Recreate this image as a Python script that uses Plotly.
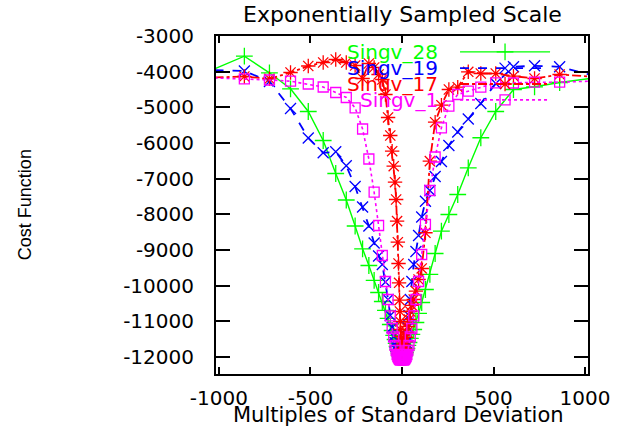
import plotly.graph_objects as go

# ---------------- data ----------------
# exponentially sampled x positions (left half, then right half)
x_left = [-1024, -861.1, -724.1, -608.9, -512, -430.5, -362.0, -304.4, -256, -215.3,
          -181.0, -152.2, -128, -107.6, -90.5, -76.1, -64, -53.8, -45.3, -38.1,
          -32, -26.9, -22.6, -19.0, -16, -13.5, -11.3, -9.5, -8, -6.7, -5.7, -4.8, -4]
x_right = [4, 4.8, 5.7, 6.7, 8, 9.5, 11.3, 13.5, 16, 19.0, 22.6, 26.9, 32, 38.1,
           45.3, 53.8, 64, 76.1, 90.5, 107.6, 128, 152.2, 181.0, 215.3, 256, 304.4,
           362.0, 430.5, 512, 608.9, 724.1, 861.1, 1024]
x_values = x_left + x_right

singv_28 = [-3919, -3566, -4032, -4480, -5116, -5929, -6854, -7597, -8326, -8965,
            -9433, -9853, -10190, -10442, -10694, -10918, -11087, -11255, -11395, -11508,
            -11619, -11704, -11788, -11844, -11900, -11942, -11970, -11984, -11998, -12012,
            -12012, -12012, -12012,
            -12012, -12012, -12012, -12012, -11998, -11984, -11970, -11942, -11914, -11872,
            -11816, -11760, -11675, -11592, -11479, -11367, -11228, -11031, -10778, -10470,
            -10106, -9685, -9097, -8471, -8004, -7443, -6694, -5853, -5116, -4500,
            -4424, -4303, -4191]

singv_19 = [-3959, -3981, -4275, -5032, -5859, -6274, -6246, -6638, -7219, -7793,
            -8326, -8802, -9167, -9406, -9896, -10386, -10834, -11171, -11423, -11592,
            -11704, -11788, -11844, -11900, -11928, -11956, -11984, -11998, -12012, -12012,
            -12012, -12012, -12012,
            -12012, -12012, -11998, -11984, -11956, -11928, -11900, -11844, -11788, -11704,
            -11592, -11423, -11171, -10834, -10386, -9882, -9406, -9040, -8592, -8073,
            -7631, -7331, -6938, -6518, -6069, -5691, -5326, -4892, -4331, -3863,
            -3835, -3863, -4079]

singv_17 = [-4163, -4135, -4200, -4023, -3841, -3743, -3659, -3743, -3827, -4191,
            -3771, -3883, -4079, -4219, -4640, -5284, -5789, -6229, -6650, -7098,
            -7583, -8191, -8780, -9377, -9918, -10406, -10723, -11003, -11228, -11423,
            -11564, -11675, -11760,
            -12012, -12012, -11984, -11956, -11928, -11872, -11816, -11760, -11675, -11564,
            -11451, -11311, -11143, -10947, -10723, -10554, -10386, -10153, -9826, -9517,
            -8516, -6509, -5416, -4940, -4500, -4435, -4003, -4051, -4051, -4127,
            -4191, -4079, -4135]

singv_1 = [-4177, -4200, -4233, -4267, -4345, -4430, -4584, -4724, -5013, -5607,
           -6448, -7378, -8312, -9153, -9882, -10386, -10848, -11199, -11437, -11675,
           -11816, -11928, -11984, -12012, -12040, -12054, -12069, -12069, -12069, -12069,
           -12069, -12069, -12069,
           -12069, -12069, -12069, -12069, -12069, -12069, -12069, -12054, -12040, -12012,
           -11984, -11928, -11816, -11675, -11437, -11199, -10848, -10386, -9882, -9125,
           -8284, -7331, -6392, -5573, -4968, -4640, -4547, -4435, -4312, -4317,
           -4295, -4295, -4267]

series_names = ["Singv_28", "Singv_19", "Singv_17", "Singv_1"]

x_tick_values = [-1000, -500, 0, 500, 1000]
x_tick_labels = ["-1000", "-500", "0", "500", "1000"]
y_tick_values = [-3000, -4000, -5000, -6000, -7000, -8000, -9000, -10000, -11000, -12000]
y_tick_labels = ["-3000", "-4000", "-5000", "-6000", "-7000", "-8000", "-9000",
                 "-10000", "-11000", "-12000"]

# ---------------- styles ----------------
series_y = [singv_28, singv_19, singv_17, singv_1]
colors = ["#00ff00", "#0000ff", "#ff0000", "#ff00ff"]
dashes = ["solid", "dash", "dashdot", "dot"]
line_widths = [1.4, 1.8, 1.8, 1.6]
symbols = ["cross-thin-open", "x-thin-open", "asterisk-open", "square-open"]
marker_sizes = [12, 11, 12, 10]

FONT = "DejaVu Sans, Verdana, sans-serif"

fig = go.Figure()

for name, ys, c, d, lw, sym, ms in zip(series_names, series_y, colors, dashes,
                                       line_widths, symbols, marker_sizes):
    fig.add_trace(go.Scatter(
        x=x_values, y=ys, mode="lines+markers", name=name,
        line=dict(color=c, width=lw, dash=d),
        marker=dict(symbol=sym, size=ms, color=c, line=dict(color=c, width=1.3)),
        cliponaxis=False, showlegend=False,
    ))

# ---------------- hand-drawn key (samples on helper axes in [0,1]) ----------------
key_x0, key_x1, key_xm = 0.656, 0.898, 0.777
key_text_x = 0.602
key_rows = [0.953, 0.905, 0.858, 0.811]

annotations = []
for name, c, d, lw, sym, ms, ky in zip(series_names, colors, dashes, line_widths,
                                        symbols, marker_sizes, key_rows):
    fig.add_trace(go.Scatter(
        x=[key_x0, key_x1], y=[ky, ky], mode="lines", xaxis="x2", yaxis="y2",
        line=dict(color=c, width=lw, dash=d), showlegend=False, hoverinfo="skip"))
    fig.add_trace(go.Scatter(
        x=[key_xm], y=[ky], mode="markers", xaxis="x2", yaxis="y2",
        marker=dict(symbol=sym, size=ms, color=c, line=dict(color=c, width=1.3)),
        showlegend=False, hoverinfo="skip"))
    annotations.append(dict(
        text=name, xref="paper", yref="paper", x=key_text_x, y=ky,
        xanchor="right", yanchor="middle", showarrow=False,
        font=dict(family=FONT, size=20, color=c)))

annotations.append(dict(
    text="Exponentially Sampled Scale", xref="paper", yref="paper",
    x=0.5, y=1.065, xanchor="center", yanchor="middle", showarrow=False,
    font=dict(family=FONT, size=22, color="black")))
annotations.append(dict(
    text="Multiples of Standard Deviation", xref="paper", yref="paper",
    x=0.49, y=-0.12, xanchor="center", yanchor="middle", showarrow=False,
    font=dict(family=FONT, size=21, color="black")))
annotations.append(dict(
    text="Cost Function", xref="paper", yref="paper",
    x=-0.513, y=0.5, xanchor="center", yanchor="middle", showarrow=False,
    textangle=-90,
    font=dict(family="Liberation Sans Narrow, Liberation Sans, Arial", size=18,
              color="black")))

axis_common = dict(showline=True, linecolor="black", linewidth=2, mirror="ticks",
                   ticks="inside", tickcolor="black", tickwidth=2,
                   showgrid=False, zeroline=False,
                   tickfont=dict(family=FONT, size=20, color="black"))

fig.update_layout(
    width=623, height=428,
    margin=dict(l=216, r=35, t=36, b=54),
    paper_bgcolor="white", plot_bgcolor="white",
    showlegend=False,
    annotations=annotations,
    xaxis=dict(range=[-1016, 1016], tickvals=x_tick_values, ticktext=x_tick_labels,
               ticklen=7, ticklabelstandoff=5, **axis_common),
    yaxis=dict(range=[-12475, -3000], tickvals=y_tick_values, ticktext=y_tick_labels,
               ticklen=14, ticklabelstandoff=16, **axis_common),
    xaxis2=dict(overlaying="x", range=[0, 1], visible=False, anchor="y2"),
    yaxis2=dict(overlaying="y", range=[0, 1], visible=False, anchor="x2"),
)

# remove the browser's default page margin so the figure starts at the window corner
fig.write_html("out.html",
               config={"displayModeBar": False},
               post_script="document.body.style.margin='0';document.body.style.overflow='hidden';")
